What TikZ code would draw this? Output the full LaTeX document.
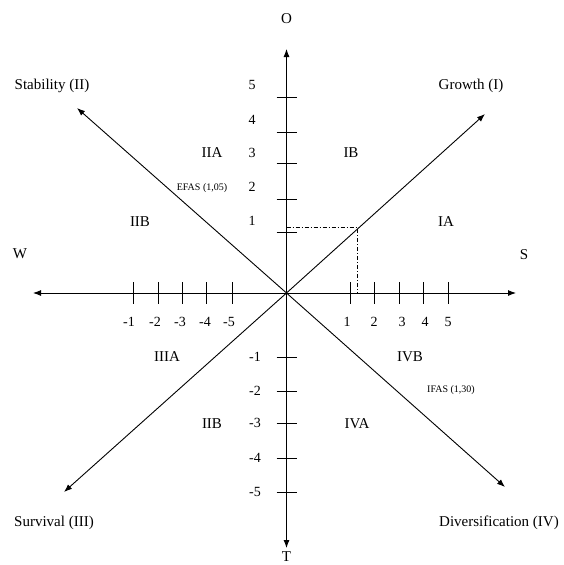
\documentclass[tikz,border=0pt]{standalone}
\usepackage{fontspec}
\setmainfont{Liberation Serif}
\usetikzlibrary{arrows.meta}
\begin{document}
\begin{tikzpicture}[x=1pt,y=-1pt,
  axis/.style={line width=0.9pt,-{Latex[length=8pt,width=6pt]}},
  tick/.style={line width=0.9pt},
  lbl/.style={font=\fontsize{15}{17}\selectfont,inner sep=0pt},
  num/.style={font=\fontsize{14}{16}\selectfont,inner sep=0pt},
  small/.style={font=\fontsize{10}{12}\selectfont,inner sep=0pt},
  ddot/.style={line width=0.8pt,dash pattern=on 4pt off 2pt on 1pt off 2pt}]
\useasboundingbox (0,0) rectangle (563,565);
\coordinate (o) at (286.5,293);
\coordinate (top) at (286.5,49);
\coordinate (bot) at (286.5,548);
\coordinate (lft) at (33,293);
\coordinate (rgt) at (516,293);
\coordinate (gr) at (485,114);
\coordinate (st) at (77,108);
\coordinate (su) at (64,492);
\coordinate (di) at (505,487);
\draw[axis] (o) -- (top);
\draw[axis] (o) -- (bot);
\draw[axis] (o) -- (lft);
\draw[axis] (o) -- (rgt);
\draw[axis] (o) -- (gr);
\draw[axis] (o) -- (st);
\draw[axis] (o) -- (su);
\draw[axis] (o) -- (di);
% vertical ticks
\foreach \y in {97,132,163,199,232,357,391,423,458,492}
  \draw[tick] (276.5,\y) -- (296.5,\y);
% horizontal ticks
\foreach \x in {133,158,182,206,232,350,374,399,423,448}
  \draw[tick] (\x,282) -- (\x,304);
% vertical labels
\node[num] (v5) at (252,85) {5};
\node[num] (v4) at (252,120) {4};
\node[num] (v3) at (252,153) {3};
\node[num] (v2) at (252,187) {2};
\node[num] (v1) at (252,221) {1};
\node[num] (vm1) at (255,357) {-1};
\node[num] (vm2) at (255,391) {-2};
\node[num] (vm3) at (255,423) {-3};
\node[num] (vm4) at (255,458) {-4};
\node[num] (vm5) at (255,492) {-5};
% horizontal labels
\node[num] (hm1) at (129,322) {-1};
\node[num] (hm2) at (155,322) {-2};
\node[num] (hm3) at (180,322) {-3};
\node[num] (hm4) at (205,322) {-4};
\node[num] (hm5) at (229,322) {-5};
\node[num] (h1) at (347,322) {1};
\node[num] (h2) at (374,322) {2};
\node[num] (h3) at (402,322) {3};
\node[num] (h4) at (425,322) {4};
\node[num] (h5) at (448,322) {5};
% axis letters
\node[lbl] (O) at (286.5,19) {O};
\node[lbl] (T) at (286.5,557) {T};
\node[lbl] (W) at (20,254) {W};
\node[lbl] (S) at (524,255) {S};
% corner labels
\node[lbl] (stab) at (52,86) {Stability (II)};
\node[lbl] (grow) at (471,86) {Growth (I)};
\node[lbl] (surv) at (54,523) {Survival (III)};
\node[lbl] (div) at (499,523) {Diversification (IV)};
% region labels
\node[lbl] (iia) at (212,153) {IIA};
\node[lbl] (ib) at (351,153) {IB};
\node[lbl] (iib1) at (140,222) {IIB};
\node[lbl] (ia) at (446,222) {IA};
\node[lbl] (iiia) at (167,357) {IIIA};
\node[lbl] (ivb) at (410,357) {IVB};
\node[lbl] (iib2) at (212,424) {IIB};
\node[lbl] (iva) at (357,424) {IVA};
\node[small] (efas) at (202,188) {EFAS (1,05)};
\node[small] (ifas) at (451,390) {IFAS (1,30)};
% dash-dot guide lines
\coordinate (pv) at (286.5,227.5);
\coordinate (pp) at (357,227.5);
\coordinate (ph) at (357,293);
\draw[ddot] (pv) -- (pp) -- (ph);
\end{tikzpicture}
\end{document}
